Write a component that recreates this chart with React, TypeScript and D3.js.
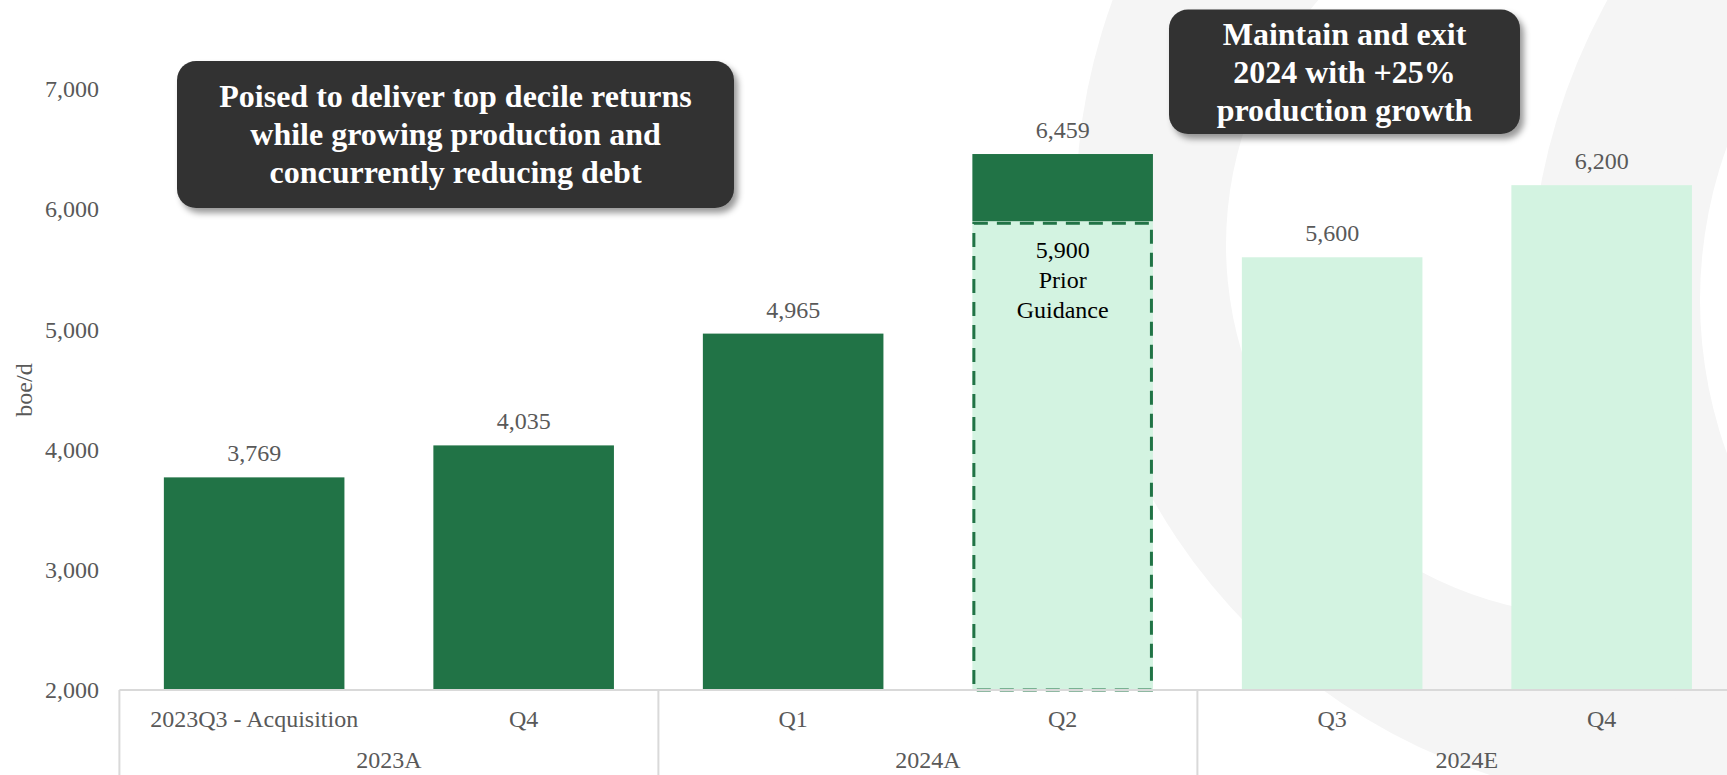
import React, { useEffect, useRef } from 'react';
import * as d3 from 'd3';

// quarters along the x axis (keys must be unique, labels repeat)
const quarterKeys = ['23Q3', '23Q4', '24Q1', '24Q2', '24Q3', '24Q4'];
const quarterLabels = ['2023Q3 - Acquisition', 'Q4', 'Q1', 'Q2', 'Q3', 'Q4'];
const production = [3769, 4035, 4965, 6459, 5600, 6200];
const quarterKind = ['actual', 'actual', 'actual', 'actual', 'estimate', 'estimate'];

const priorGuidanceQuarter = '24Q2';
const priorGuidanceValue = 5900;
const priorGuidanceLines = ['5,900', 'Prior', 'Guidance'];

const groupLabels = ['2023A', '2024A', '2024E'];
const groupSpans = [2, 2, 2];

const yTicks = [2000, 3000, 4000, 5000, 6000, 7000];

const calloutLeft = ['Poised to deliver top decile returns', 'while growing production and', 'concurrently reducing debt'];
const calloutRight = ['Maintain and exit', '2024 with +25%', 'production growth'];

const W = 1727;
const H = 775;
const FONT = '"Times New Roman", "Liberation Serif", serif';
const DARK = '#217346';
const LIGHT = '#d3f3e1';
const GREY_TEXT = '#595959';

const App: React.FC = () => {
    const ref = useRef<SVGSVGElement | null>(null);

    useEffect(() => {
        const svg = d3.select(ref.current);
        svg.selectAll('*').remove();

        const x = d3.scaleBand<string>().domain(quarterKeys).range([119.4, 1736.4]).paddingInner(0.33).paddingOuter(0.165);
        const y = d3.scaleLinear().domain([2000, 7000]).range([690, 89]);

        const defs = svg.append('defs');
        const filter = defs.append('filter').attr('id', 'shadow').attr('x', '-10%').attr('y', '-10%').attr('width', '125%').attr('height', '135%');
        filter.append('feDropShadow').attr('dx', 4).attr('dy', 5).attr('stdDeviation', 3)
            .attr('flood-color', '#000').attr('flood-opacity', 0.4);

        // faint watermark rings in the background
        const circ = (cx: number, cy: number, r: number) =>
            `M${cx - r},${cy}a${r},${r} 0 1,0 ${2 * r},0a${r},${r} 0 1,0 ${-2 * r},0Z`;
        const bg = svg.append('g');
        bg.append('path')
            .attr('d', circ(1674, 206, 598) + circ(1597, 245, 371))
            .attr('fill', '#f5f5f5').attr('fill-rule', 'evenodd');
        bg.append('path')
            .attr('d', circ(2150, 300, 620) + circ(2150, 300, 450))
            .attr('fill', '#f5f5f5').attr('fill-rule', 'evenodd');

        // y axis
        const yAxis = d3.axisLeft(y).tickValues(yTicks).tickSize(0).tickPadding(0).tickFormat(d3.format(','));
        const yg = svg.append('g').attr('transform', 'translate(99,0)').call(yAxis);
        yg.select('.domain').remove();
        yg.selectAll('text').attr('font-family', FONT).attr('font-size', 24).attr('fill', GREY_TEXT).attr('dy', '0.32em');

        svg.append('text')
            .attr('transform', 'translate(24,390) rotate(-90)')
            .attr('text-anchor', 'middle').attr('dy', '0.32em')
            .attr('font-family', FONT).attr('font-size', 24).attr('fill', GREY_TEXT)
            .text('boe/d');

        const bars = svg.append('g');
        quarterKeys.forEach((k, i) => {
            const x0 = x(k) as number;
            const bw = x.bandwidth();
            const v = production[i];
            if (k === priorGuidanceQuarter) {
                bars.append('rect').attr('x', x0).attr('y', y(priorGuidanceValue)).attr('width', bw)
                    .attr('height', y(2000) - y(priorGuidanceValue)).attr('fill', LIGHT);
                bars.append('rect').attr('x', x0 + 1.5).attr('y', y(priorGuidanceValue) + 2).attr('width', bw - 3)
                    .attr('height', y(2000) - y(priorGuidanceValue) - 2).attr('fill', 'none')
                    .attr('stroke', DARK).attr('stroke-width', 3).attr('stroke-dasharray', '14,9');
                bars.append('rect').attr('x', x0).attr('y', y(v)).attr('width', bw)
                    .attr('height', y(priorGuidanceValue) - y(v)).attr('fill', DARK);
                priorGuidanceLines.forEach((t, j) => {
                    bars.append('text').attr('x', x0 + bw / 2).attr('y', y(priorGuidanceValue) + 37 + j * 30)
                        .attr('text-anchor', 'middle').attr('font-family', FONT).attr('font-size', 24)
                        .attr('fill', '#000').text(t);
                });
            } else {
                bars.append('rect').attr('x', x0).attr('y', y(v)).attr('width', bw)
                    .attr('height', y(2000) - y(v)).attr('fill', quarterKind[i] === 'estimate' ? LIGHT : DARK);
            }
            bars.append('text').attr('x', x0 + bw / 2).attr('y', y(v) - 16)
                .attr('text-anchor', 'middle').attr('font-family', FONT).attr('font-size', 24)
                .attr('fill', GREY_TEXT).text(d3.format(',')(v));
        });

        // category axis with group boxes
        const axis = svg.append('g');
        const [r0] = x.range();
        axis.append('line').attr('x1', r0).attr('x2', W).attr('y1', 690).attr('y2', 690)
            .attr('stroke', '#d9d9d9').attr('stroke-width', 2);
        quarterKeys.forEach((k, i) => {
            axis.append('text').attr('x', (x(k) as number) + x.bandwidth() / 2).attr('y', 727)
                .attr('text-anchor', 'middle').attr('font-family', FONT).attr('font-size', 24)
                .attr('fill', GREY_TEXT).text(quarterLabels[i]);
        });
        let start = 0;
        groupLabels.forEach((g, i) => {
            const a = r0 + x.step() * start;
            const b = r0 + x.step() * (start + groupSpans[i]);
            axis.append('line').attr('x1', a).attr('x2', a).attr('y1', 690).attr('y2', H)
                .attr('stroke', '#d9d9d9').attr('stroke-width', 2);
            axis.append('text').attr('x', (a + b) / 2).attr('y', 768)
                .attr('text-anchor', 'middle').attr('font-family', FONT).attr('font-size', 24)
                .attr('fill', GREY_TEXT).text(g);
            start += groupSpans[i];
        });

        // callout boxes
        const callout = (lines: string[], bx: number, by: number, bw: number, bh: number, firstBase: number) => {
            const g = svg.append('g');
            g.append('rect').attr('x', bx).attr('y', by).attr('width', bw).attr('height', bh)
                .attr('rx', 19).attr('fill', '#333333').attr('filter', 'url(#shadow)');
            lines.forEach((t, j) => {
                g.append('text').attr('x', bx + bw / 2).attr('y', firstBase + j * 38.3)
                    .attr('text-anchor', 'middle').attr('font-family', FONT).attr('font-size', 32)
                    .attr('font-weight', 'bold').attr('fill', '#fff').text(t);
            });
        };
        callout(calloutLeft, 177, 61, 557, 147, 106.7);
        callout(calloutRight, 1169, 9.5, 351, 124.5, 44.5);
    }, []);

    return (
        <div style={{ position: 'absolute', left: 0, top: 0 }}>
            <svg ref={ref} width={W} height={H} style={{ display: 'block', background: '#fff' }} />
        </div>
    );
};

export default App;
